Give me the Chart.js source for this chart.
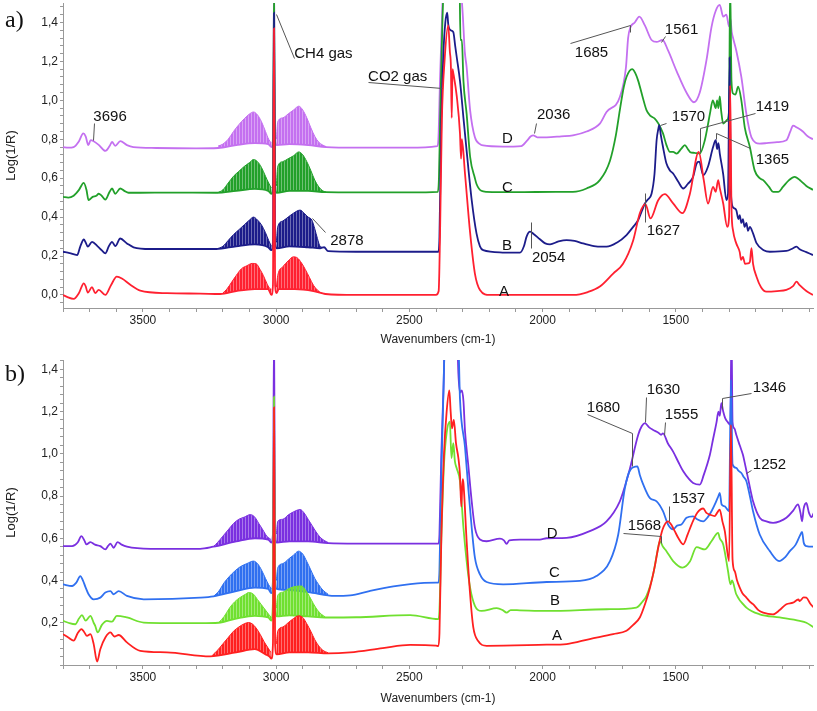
<!DOCTYPE html>
<html>
<head>
<meta charset="utf-8">
<script src="https://cdn.jsdelivr.net/npm/chart.js@4.4.1/dist/chart.umd.min.js"></script>
<style>
  html, body { margin: 0; padding: 0; background: #fff; }
  #wrap { position: relative; width: 817px; height: 711px; overflow: hidden; }
  canvas { position: absolute; left: 0; }
  .panel { position: absolute; left: 5px; font: 24px "Liberation Serif", "Times New Roman", serif; line-height: 24px; color: #111; }
</style>
</head>
<body>
<div id="wrap">
  <canvas id="ca" width="817" height="352" style="top:0"></canvas>
  <canvas id="cb" width="817" height="359" style="top:352px"></canvas>
  <div class="panel" style="top:7px">a)</div>
  <div class="panel" style="top:361px">b)</div>
</div>
<script>
// ---------------- DATA (wavenumber cm-1, Log(1/R)) ----------------
// Panel a)
const a_A = [[3800,0.0],[3785,-0.01],[3760,-0.02],[3740,0.01],[3722,0.06],[3715,0.045],[3707,0.012],[3691,0.04],[3679,0.01],[3666,0.026],[3641,0.0],[3620,0.05],[3598,0.094],[3579,0.085],[3545,0.05],[3510,0.022],[3410,0.009],[3285,0.007],[3210,0.005],[3150,0.02],[3080,0.03],[3030,0.03],[3018,0.0],[3012,0.05],[3008,1.37],[3004,0.05],[2998,0.01],[2990,0.03],[2930,0.03],[2860,0.02],[2815,0.005],[2700,0.0],[2500,0.0],[2400,0.0],[2390,0.02],[2385,0.3],[2378,0.9],[2368,1.2],[2354,1.385],[2348,1.25],[2344,1.17],[2341,0.91],[2338,1.16],[2335,1.14],[2322,1.02],[2310,0.83],[2306,0.7],[2303,0.8],[2291,0.62],[2272,0.32],[2254,0.11],[2235,0.026],[2198,0.0],[1885,0.0],[1830,0.015],[1785,0.043],[1735,0.11],[1698,0.16],[1660,0.28],[1635,0.42],[1614,0.467],[1595,0.393],[1566,0.487],[1541,0.518],[1510,0.47],[1475,0.42],[1447,0.52],[1414,0.735],[1395,0.59],[1379,0.47],[1360,0.555],[1350,0.53],[1341,0.59],[1335,0.55],[1322,0.47],[1307,0.35],[1300,0.4],[1296,1.077],[1291,0.45],[1285,0.33],[1273,0.265],[1260,0.22],[1255,0.18],[1248,0.196],[1240,0.16],[1229,0.162],[1222,0.17],[1216,0.24],[1210,0.16],[1197,0.094],[1180,0.04],[1160,0.017],[1120,0.02],[1085,0.026],[1060,0.045],[1047,0.068],[1035,0.05],[1010,0.02],[985,0.0]];
const a_A_R = [[3200,0.01],[3185,0.03],[3165,0.07],[3150,0.10],[3130,0.135],[3110,0.15],[3090,0.162],[3075,0.16],[3060,0.13],[3048,0.10],[3035,0.06],[3025,0.035],[3018,0.03]];
const a_A_P = [[2999,0.04],[2994,0.10],[2975,0.145],[2955,0.175],[2935,0.196],[2920,0.19],[2905,0.165],[2890,0.13],[2875,0.09],[2860,0.05],[2845,0.025],[2830,0.01],[2815,0.005]];

const a_B = [[3800,0.222],[3775,0.215],[3747,0.205],[3735,0.25],[3722,0.285],[3715,0.27],[3707,0.248],[3691,0.273],[3670,0.25],[3655,0.23],[3641,0.214],[3628,0.25],[3616,0.273],[3604,0.251],[3585,0.29],[3560,0.265],[3535,0.245],[3472,0.236],[3350,0.236],[3225,0.236],[3150,0.25],[3080,0.26],[3030,0.245],[3018,0.23],[3012,0.27],[3008,1.45],[3004,0.27],[2998,0.24],[2950,0.25],[2880,0.245],[2835,0.24],[2820,0.245],[2805,0.225],[2700,0.222],[2500,0.222],[2391,0.222],[2387,0.3],[2380,0.9],[2372,1.25],[2365,1.4],[2358,1.45],[2354,1.39],[2345,1.36],[2335,1.35],[2328,1.28],[2322,1.22],[2310,1.10],[2297,0.91],[2285,0.74],[2266,0.487],[2248,0.316],[2235,0.25],[2223,0.23],[2150,0.218],[2085,0.217],[2070,0.25],[2060,0.30],[2047,0.325],[2035,0.315],[2010,0.286],[1990,0.265],[1972,0.26],[1940,0.275],[1910,0.282],[1880,0.278],[1848,0.265],[1800,0.25],[1760,0.248],[1720,0.27],[1685,0.308],[1660,0.35],[1641,0.385],[1625,0.44],[1616,0.47],[1605,0.49],[1591,0.52],[1580,0.62],[1572,0.795],[1566,0.85],[1562,0.872],[1556,0.82],[1548,0.76],[1535,0.675],[1522,0.64],[1510,0.624],[1490,0.58],[1472,0.547],[1455,0.57],[1435,0.607],[1422,0.675],[1412,0.685],[1397,0.615],[1379,0.66],[1360,0.76],[1350,0.795],[1345,0.75],[1340,0.78],[1335,0.728],[1322,0.62],[1310,0.487],[1304,0.52],[1298,1.22],[1294,0.55],[1285,0.45],[1273,0.436],[1265,0.39],[1260,0.41],[1254,0.37],[1248,0.39],[1242,0.35],[1235,0.37],[1229,0.33],[1222,0.35],[1210,0.316],[1197,0.266],[1170,0.23],[1147,0.222],[1085,0.226],[1060,0.24],[1047,0.248],[1035,0.235],[1010,0.22],[985,0.205]];
const a_B_R = [[3225,0.236],[3200,0.25],[3180,0.28],[3160,0.31],[3140,0.335],[3120,0.36],[3100,0.385],[3085,0.40],[3070,0.385],[3055,0.36],[3040,0.32],[3028,0.28],[3018,0.25]];
const a_B_P = [[2999,0.27],[2994,0.35],[2975,0.38],[2955,0.40],[2935,0.42],[2910,0.436],[2895,0.42],[2880,0.40],[2866,0.385],[2855,0.34],[2845,0.29],[2835,0.25],[2825,0.245]];

const a_C = [[3800,0.504],[3780,0.50],[3760,0.51],[3740,0.54],[3722,0.576],[3712,0.54],[3704,0.487],[3689,0.504],[3675,0.51],[3666,0.52],[3655,0.51],[3641,0.49],[3625,0.53],[3616,0.547],[3604,0.52],[3585,0.547],[3570,0.535],[3554,0.525],[3510,0.525],[3400,0.526],[3225,0.525],[3150,0.535],[3080,0.545],[3030,0.535],[3018,0.52],[3012,0.56],[3008,1.6],[3004,0.56],[2998,0.525],[2950,0.535],[2880,0.535],[2815,0.528],[2700,0.527],[2500,0.527],[2393,0.53],[2389,0.6],[2383,1.0],[2376,1.4],[2370,1.6],[2312,1.6],[2308,1.31],[2303,1.31],[2297,1.1],[2285,0.93],[2272,0.71],[2254,0.6],[2248,0.57],[2230,0.535],[2210,0.53],[2100,0.528],[1950,0.53],[1886,0.53],[1835,0.547],[1785,0.59],[1747,0.69],[1725,0.82],[1710,0.95],[1695,1.07],[1685,1.12],[1664,1.16],[1652,1.14],[1641,1.10],[1625,1.02],[1610,0.95],[1595,0.92],[1579,0.906],[1565,0.88],[1548,0.83],[1535,0.77],[1522,0.735],[1510,0.735],[1497,0.726],[1480,0.75],[1466,0.77],[1455,0.75],[1447,0.735],[1430,0.73],[1410,0.726],[1391,0.795],[1380,0.87],[1372,0.93],[1361,1.0],[1350,0.96],[1345,1.0],[1340,0.96],[1335,1.02],[1330,0.95],[1322,0.88],[1307,0.9],[1300,0.95],[1296,1.6],[1291,1.1],[1285,1.035],[1276,1.03],[1266,1.07],[1254,1.0],[1241,0.86],[1222,0.76],[1204,0.64],[1185,0.6],[1172,0.59],[1150,0.555],[1135,0.53],[1115,0.53],[1098,0.555],[1075,0.59],[1054,0.607],[1030,0.585],[1010,0.56],[985,0.54]];
const a_C_R = [[3220,0.525],[3200,0.54],[3180,0.575],[3160,0.61],[3140,0.635],[3120,0.66],[3100,0.68],[3085,0.696],[3070,0.685],[3055,0.655],[3040,0.61],[3028,0.575],[3018,0.55]];
const a_C_P = [[2999,0.56],[2994,0.66],[2975,0.685],[2955,0.70],[2935,0.715],[2915,0.735],[2900,0.72],[2885,0.685],[2870,0.64],[2855,0.59],[2840,0.555],[2825,0.535],[2812,0.528]];

const a_D = [[3800,0.76],[3780,0.757],[3760,0.76],[3740,0.79],[3724,0.83],[3715,0.815],[3705,0.77],[3696,0.795],[3685,0.79],[3665,0.77],[3641,0.74],[3625,0.765],[3616,0.786],[3604,0.766],[3585,0.79],[3560,0.77],[3536,0.76],[3450,0.755],[3300,0.753],[3218,0.755],[3150,0.77],[3080,0.78],[3030,0.775],[3018,0.76],[3012,0.8],[3008,1.6],[3004,0.8],[2998,0.77],[2950,0.775],[2880,0.77],[2812,0.76],[2700,0.757],[2500,0.757],[2395,0.765],[2391,0.8],[2385,1.1],[2378,1.4],[2372,1.6],[2310,1.6],[2300,1.45],[2292,1.25],[2285,1.17],[2272,0.95],[2254,0.81],[2235,0.775],[2223,0.768],[2150,0.762],[2080,0.765],[2060,0.79],[2044,0.815],[2035,0.82],[2020,0.81],[2010,0.81],[1985,0.81],[1930,0.815],[1886,0.82],[1835,0.84],[1785,0.88],[1760,0.94],[1710,1.017],[1687,1.17],[1679,1.32],[1670,1.376],[1654,1.40],[1637,1.43],[1616,1.385],[1591,1.31],[1572,1.30],[1550,1.31],[1529,1.256],[1497,1.15],[1460,1.04],[1432,0.99],[1410,1.04],[1385,1.205],[1366,1.376],[1350,1.46],[1335,1.49],[1322,1.43],[1310,1.44],[1300,1.38],[1295,1.42],[1290,1.35],[1285,1.32],[1273,1.256],[1254,1.12],[1235,0.93],[1216,0.81],[1185,0.778],[1160,0.78],[1120,0.785],[1085,0.795],[1070,0.84],[1060,0.87],[1045,0.86],[1023,0.84],[1005,0.815],[985,0.80]];
const a_D_R = [[3218,0.765],[3200,0.775],[3180,0.80],[3160,0.84],[3140,0.875],[3120,0.905],[3100,0.93],[3085,0.94],[3070,0.925],[3055,0.89],[3040,0.84],[3028,0.80],[3018,0.78]];
const a_D_P = [[2999,0.80],[2994,0.89],[2975,0.91],[2955,0.93],[2935,0.95],[2915,0.97],[2900,0.95],[2885,0.91],[2870,0.86],[2855,0.815],[2840,0.785],[2825,0.77],[2812,0.762]];

// Panel b)
const b_A = [[3800,0.146],[3780,0.13],[3760,0.115],[3745,0.15],[3731,0.17],[3720,0.155],[3710,0.138],[3697,0.146],[3685,0.10],[3672,0.016],[3660,0.075],[3641,0.13],[3622,0.154],[3607,0.135],[3591,0.142],[3560,0.107],[3510,0.067],[3410,0.06],[3247,0.041],[3150,0.06],[3080,0.075],[3040,0.05],[3025,0.04],[3018,0.03],[3012,0.10],[3008,1.22],[3004,0.10],[2998,0.05],[2950,0.06],[2880,0.06],[2805,0.055],[2722,0.06],[2600,0.08],[2497,0.095],[2400,0.092],[2391,0.09],[2387,0.15],[2380,0.6],[2370,1.0],[2360,1.2],[2350,1.30],[2345,1.20],[2340,1.12],[2333,1.16],[2325,1.05],[2316,0.98],[2310,0.90],[2305,0.75],[2300,0.88],[2297,0.86],[2285,0.586],[2272,0.335],[2260,0.178],[2241,0.112],[2210,0.091],[1985,0.096],[1910,0.099],[1823,0.123],[1735,0.146],[1685,0.162],[1660,0.19],[1635,0.225],[1615,0.29],[1597,0.366],[1580,0.46],[1566,0.555],[1550,0.64],[1529,0.68],[1515,0.66],[1504,0.634],[1490,0.60],[1472,0.571],[1455,0.62],[1441,0.665],[1420,0.72],[1397,0.741],[1385,0.72],[1372,0.712],[1354,0.705],[1345,0.72],[1335,0.736],[1325,0.68],[1316,0.634],[1300,0.492],[1293,1.137],[1287,0.5],[1279,0.445],[1270,0.40],[1260,0.366],[1250,0.34],[1235,0.319],[1222,0.30],[1210,0.288],[1190,0.26],[1172,0.248],[1135,0.24],[1110,0.26],[1085,0.288],[1060,0.295],[1040,0.31],[1035,0.303],[1020,0.32],[1010,0.319],[995,0.29],[982,0.272]];
const b_A_R = [[3240,0.045],[3220,0.07],[3200,0.10],[3180,0.13],[3160,0.16],[3140,0.18],[3120,0.195],[3104,0.201],[3090,0.195],[3075,0.175],[3060,0.145],[3045,0.11],[3030,0.08],[3020,0.06]];
const b_A_P = [[2999,0.10],[2994,0.16],[2975,0.18],[2955,0.20],[2935,0.22],[2916,0.233],[2900,0.225],[2885,0.195],[2870,0.16],[2855,0.12],[2840,0.09],[2825,0.07],[2805,0.058]];

const b_B = [[3800,0.209],[3780,0.20],[3754,0.193],[3740,0.22],[3729,0.236],[3715,0.21],[3697,0.233],[3685,0.20],[3679,0.185],[3670,0.154],[3654,0.19],[3635,0.209],[3616,0.205],[3598,0.233],[3560,0.225],[3497,0.201],[3285,0.198],[3216,0.20],[3150,0.22],[3080,0.233],[3030,0.225],[3018,0.21],[3012,0.30],[3008,1.27],[3004,0.30],[2998,0.23],[2950,0.235],[2880,0.23],[2816,0.225],[2700,0.226],[2497,0.236],[2391,0.217],[2387,0.26],[2380,0.6],[2370,0.95],[2360,1.10],[2348,1.152],[2342,0.98],[2335,1.05],[2329,0.964],[2322,0.93],[2310,0.87],[2297,0.65],[2285,0.492],[2272,0.366],[2254,0.28],[2229,0.256],[2172,0.269],[2150,0.26],[2135,0.248],[2120,0.26],[2085,0.259],[1985,0.256],[1760,0.264],[1648,0.272],[1625,0.30],[1610,0.327],[1585,0.429],[1570,0.53],[1560,0.586],[1548,0.56],[1535,0.539],[1510,0.492],[1475,0.461],[1447,0.49],[1422,0.558],[1391,0.547],[1366,0.586],[1341,0.626],[1335,0.60],[1322,0.571],[1304,0.445],[1295,0.382],[1289,0.40],[1273,0.335],[1235,0.272],[1185,0.24],[1110,0.225],[1035,0.209],[1010,0.20],[982,0.178]];
const b_B_R = [[3216,0.20],[3195,0.23],[3175,0.27],[3155,0.30],[3135,0.32],[3115,0.335],[3104,0.343],[3085,0.335],[3070,0.31],[3055,0.285],[3040,0.26],[3028,0.24],[3018,0.225]];
const b_B_P = [[2999,0.27],[2994,0.33],[2975,0.345],[2955,0.36],[2935,0.37],[2904,0.374],[2890,0.355],[2875,0.325],[2860,0.29],[2845,0.26],[2830,0.24],[2816,0.228]];

const b_C = [[3800,0.382],[3766,0.374],[3750,0.39],[3735,0.421],[3725,0.40],[3716,0.37],[3704,0.335],[3685,0.311],[3660,0.319],[3641,0.343],[3622,0.35],[3610,0.335],[3591,0.35],[3560,0.327],[3497,0.311],[3285,0.319],[3235,0.325],[3150,0.35],[3080,0.366],[3030,0.36],[3018,0.34],[3012,0.40],[3008,1.0],[3004,0.40],[2998,0.36],[2950,0.355],[2880,0.345],[2805,0.33],[2785,0.327],[2722,0.33],[2650,0.35],[2560,0.372],[2497,0.383],[2400,0.39],[2391,0.39],[2387,0.45],[2380,0.9],[2372,1.3],[2365,1.6],[2318,1.6],[2310,1.26],[2291,1.03],[2279,0.84],[2266,0.65],[2254,0.508],[2235,0.429],[2210,0.393],[2148,0.382],[1985,0.393],[1860,0.398],[1798,0.421],[1747,0.492],[1716,0.618],[1691,0.838],[1670,0.925],[1644,0.94],[1635,0.90],[1622,0.854],[1597,0.79],[1572,0.775],[1548,0.728],[1529,0.665],[1510,0.642],[1495,0.66],[1479,0.665],[1460,0.697],[1435,0.704],[1420,0.69],[1397,0.68],[1380,0.70],[1366,0.728],[1350,0.77],[1340,0.80],[1335,0.815],[1328,0.76],[1316,0.751],[1300,0.728],[1293,1.35],[1287,0.95],[1273,0.933],[1265,0.92],[1254,0.909],[1245,0.89],[1235,0.87],[1222,0.80],[1210,0.728],[1185,0.618],[1147,0.539],[1112,0.492],[1090,0.51],[1072,0.539],[1050,0.57],[1035,0.61],[1026,0.63],[1020,0.58],[1010,0.563],[982,0.56]];
const b_C_R = [[3235,0.325],[3215,0.35],[3195,0.39],[3175,0.42],[3155,0.445],[3135,0.465],[3110,0.48],[3085,0.492],[3070,0.48],[3055,0.45],[3040,0.41],[3028,0.38],[3018,0.36]];
const b_C_P = [[2999,0.40],[2994,0.46],[2975,0.48],[2955,0.50],[2935,0.52],[2916,0.539],[2900,0.525],[2885,0.49],[2870,0.45],[2855,0.41],[2840,0.38],[2825,0.355],[2805,0.335]];

const b_D = [[3800,0.563],[3766,0.563],[3745,0.58],[3731,0.61],[3720,0.59],[3712,0.571],[3697,0.582],[3680,0.57],[3660,0.563],[3641,0.547],[3630,0.565],[3622,0.575],[3610,0.555],[3595,0.582],[3580,0.57],[3560,0.56],[3472,0.55],[3285,0.55],[3236,0.56],[3150,0.585],[3080,0.60],[3030,0.594],[3018,0.58],[3012,0.62],[3008,1.6],[3004,0.62],[2998,0.58],[2950,0.585],[2880,0.585],[2805,0.577],[2700,0.575],[2500,0.575],[2391,0.575],[2387,0.62],[2380,1.0],[2372,1.3],[2365,1.6],[2322,1.6],[2316,1.38],[2310,1.29],[2303,1.3],[2297,1.25],[2291,1.105],[2279,0.948],[2266,0.775],[2254,0.65],[2235,0.594],[2210,0.586],[2160,0.598],[2145,0.59],[2135,0.574],[2125,0.59],[2085,0.594],[2010,0.594],[1985,0.60],[1910,0.602],[1823,0.634],[1760,0.68],[1710,0.775],[1690,0.85],[1672,0.93],[1641,1.09],[1628,1.13],[1616,1.145],[1600,1.125],[1585,1.113],[1565,1.10],[1555,1.09],[1548,1.097],[1530,1.05],[1510,1.01],[1490,0.96],[1472,0.917],[1450,0.88],[1435,0.862],[1410,0.854],[1395,0.90],[1372,0.995],[1360,1.07],[1347,1.15],[1340,1.2],[1335,1.18],[1329,1.24],[1322,1.20],[1315,1.17],[1305,1.15],[1295,1.137],[1291,1.6],[1287,1.15],[1280,1.12],[1273,1.09],[1260,1.04],[1248,0.995],[1240,0.95],[1229,0.885],[1220,0.83],[1210,0.775],[1185,0.697],[1160,0.68],[1135,0.673],[1110,0.68],[1085,0.697],[1060,0.73],[1041,0.76],[1032,0.72],[1026,0.68],[1020,0.74],[1010,0.767],[1000,0.72],[991,0.70],[982,0.72]];
const b_D_R = [[3236,0.56],[3220,0.58],[3200,0.61],[3180,0.64],[3160,0.67],[3140,0.69],[3120,0.70],[3097,0.712],[3080,0.70],[3065,0.67],[3050,0.64],[3035,0.61],[3020,0.595]];
const b_D_P = [[2999,0.62],[2994,0.68],[2975,0.69],[2955,0.71],[2935,0.725],[2910,0.736],[2895,0.72],[2880,0.69],[2865,0.66],[2850,0.63],[2835,0.605],[2820,0.59],[2805,0.58]];

// Tick labels
const xTickLabels = [1500, 2000, 2500, 3000, 3500];
const yTickLabels = ['0,0','0,2','0,4','0,6','0,8','1,0','1,2','1,4'];

// Annotations (text, wavenumber, value) and leader lines
const a_labels = [['3696',3686,0.913],['CH4 gas',2932,1.241],['CO2 gas',2655,1.123],['D',2152,0.80],['C',2152,0.549],['B',2152,0.251],['A',2164,0.018],['2036',2021,0.923],['2054',2040,0.19],['1685',1879,1.246],['1561',1541,1.364],['1570',1515,0.913],['1419',1200,0.964],['1365',1200,0.692],['1627',1609,0.328],['2878',2797,0.277]];
const a_leaders = [[[3682,0.882],[3686,0.795]],[[3000,1.446],[2932,1.215]],[[2655,1.092],[2377,1.062]],[[2032,0.831],[2025,0.882]],[[2044,0.374],[2044,0.241]],[[1897,1.292],[1672,1.385],[1672,1.349]],[[1554,1.299],[1541,1.333]],[[1560,0.872],[1535,0.882]],[[1410,0.733],[1410,0.856],[1204,0.933]],[[1350,0.80],[1350,0.831],[1222,0.754]],[[1614,0.523],[1614,0.374]],[[2866,0.395],[2816,0.323]]];
const b_labels = [['1680',1834,1.217],['1630',1609,1.302],['1555',1541,1.184],['1346',1211,1.311],['1252',1211,0.948],['1537',1515,0.788],['1568',1680,0.66],['D',1984,0.623],['C',1976,0.434],['B',1972,0.302],['A',1965,0.137]];
const b_leaders = [[[1834,1.189],[1665,1.10],[1665,0.94]],[[1610,1.27],[1614,1.152]],[[1541,1.152],[1544,1.09]],[[1325,1.21],[1325,1.264],[1216,1.289]],[[1235,0.909],[1216,0.921]],[[1525,0.751],[1525,0.681]],[[1700,0.626],[1554,0.61],[1554,0.579]]];

// ---------------- RENDERING ----------------
const FONT = '"Liberation Sans", Arial, sans-serif';

function comb(color) {
  const c = document.createElement('canvas');
  c.width = 3; c.height = 1;
  const g = c.getContext('2d');
  g.fillStyle = color; g.fillRect(0, 0, 2, 1);
  g.globalAlpha = 0.65; g.fillRect(2, 0, 1, 1);
  return g.createPattern(c, 'repeat');
}
const toXY = arr => arr.map(p => ({x: p[0], y: p[1]}));

function buildDatasets(series) {
  const ds = [];
  series.forEach(s => {
    const idx = ds.length;
    ds.push({data: toXY(s.main), borderColor: s.color, borderWidth: 1.8, fill: false});
    [s.R, s.P].forEach(b => ds.push({data: toXY(b), borderColor: s.color, borderWidth: 1, backgroundColor: comb(s.color), fill: idx}));
  });
  return ds;
}

function annotPlugin(labels, leaders) {
  return {
    id: 'annot',
    afterDraw(chart) {
      const {ctx} = chart, x = chart.scales.x, y = chart.scales.y;
      ctx.save();
      ctx.strokeStyle = '#555'; ctx.lineWidth = 1;
      leaders.forEach(pts => {
        ctx.beginPath();
        pts.forEach((p, i) => {
          const px = Math.round(x.getPixelForValue(p[0])) + 0.5, py = Math.round(y.getPixelForValue(p[1])) + 0.5;
          i ? ctx.lineTo(px, py) : ctx.moveTo(px, py);
        });
        ctx.stroke();
      });
      ctx.fillStyle = '#111'; ctx.font = '15px ' + FONT;
      ctx.textBaseline = 'middle'; ctx.textAlign = 'left';
      labels.forEach(l => ctx.fillText(l[0], x.getPixelForValue(l[1]), y.getPixelForValue(l[2])));
      ctx.restore();
    }
  };
}

function makeChart(canvasId, series, yMin, yMax, topPad, xHeight, showZero, labels, leaders) {
  return new Chart(document.getElementById(canvasId), {
    type: 'line',
    data: {datasets: buildDatasets(series)},
    plugins: [annotPlugin(labels, leaders)],
    options: {
      responsive: false, animation: false, devicePixelRatio: 1,
      layout: {padding: {top: topPad, right: 4, left: 0, bottom: 0}},
      elements: {point: {radius: 0}, line: {cubicInterpolationMode: 'monotone'}},
      plugins: {legend: {display: false}, tooltip: {enabled: false}},
      scales: {
        x: {
          type: 'linear', reverse: true, min: 985, max: 3800,
          afterBuildTicks: sc => { const t = []; for (let v = 1000; v <= 3800; v += 100) t.push({value: v}); sc.ticks = t; },
          afterFit: sc => { sc.height = xHeight; sc.paddingLeft = 0; sc.paddingRight = 0; },
          ticks: {autoSkip: false, maxRotation: 0, padding: 1, color: '#222', font: {family: FONT, size: 12},
                  callback: v => xTickLabels.includes(v) ? String(v) : ''},
          grid: {drawOnChartArea: false, drawTicks: true, tickLength: 4, color: '#999'},
          border: {display: true, color: '#999'},
          title: {display: true, text: 'Wavenumbers (cm-1)', color: '#222', font: {family: FONT, size: 12}, padding: {top: 0, bottom: 5}}
        },
        y: {
          type: 'linear', min: yMin, max: yMax,
          afterBuildTicks: sc => { const t = []; for (let i = Math.ceil(yMin / 0.04 - 1e-9); i * 0.04 <= yMax + 1e-9; i++) t.push({value: Math.round(i * 0.04 * 1000) / 1000}); sc.ticks = t; },
          afterFit: sc => { sc.width = 63; sc.paddingTop = 0; sc.paddingBottom = 0; },
          ticks: {autoSkip: false, padding: 2, color: '#222', font: {family: FONT, size: 12},
                  callback: v => { const k = Math.round(v / 0.2); if (Math.abs(v / 0.2 - k) > 1e-6 || k < 0 || k > 7) return ''; if (k === 0 && !showZero) return ''; return yTickLabels[k]; }},
          grid: {drawOnChartArea: false, drawTicks: true, tickLength: 3, color: '#999'},
          border: {display: true, color: '#999'},
          title: {display: true, text: 'Log(1/R)', color: '#222', font: {family: FONT, size: 13}, padding: {top: 4, bottom: 0}}
        }
      }
    }
  });
}

makeChart('ca', [
  {main: a_A, R: a_A_R, P: a_A_P, color: '#ff2030'},
  {main: a_B, R: a_B_R, P: a_B_P, color: '#1c1c8a'},
  {main: a_C, R: a_C_R, P: a_C_P, color: '#22a02a'},
  {main: a_D, R: a_D_R, P: a_D_P, color: '#c470f0'}
], -0.067, 1.5, 3, 44, true, a_labels, a_leaders);

makeChart('cb', [
  {main: b_A, R: b_A_R, P: b_A_P, color: '#ff2020'},
  {main: b_B, R: b_B_R, P: b_B_P, color: '#70e030'},
  {main: b_C, R: b_C_R, P: b_C_P, color: '#3070f0'},
  {main: b_D, R: b_D_R, P: b_D_P, color: '#7a30e0'}
], 0, 1.444, 8, 46, false, b_labels, b_leaders);
</script>
</body>
</html>
